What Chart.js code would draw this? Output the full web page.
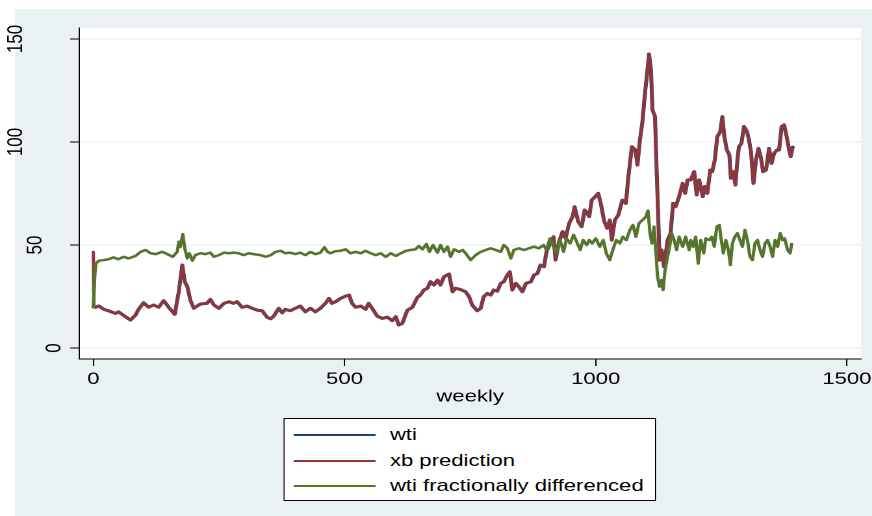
<!DOCTYPE html>
<html lang="en">
<head>
    <meta charset="UTF-8">
    <title>wti weekly</title>
    <script src="https://cdn.jsdelivr.net/npm/chart.js"></script>
    <style>
        body { margin: 0; background: white; }
        #wrap { position: absolute; left: 0; top: 0; width: 671px; height: 516px;
                transform: scaleX(1.2996); transform-origin: 0 0; }
        #legend { position: absolute; left: 218px; top: 418px; width: 287px; height: 83px;
                  box-sizing: border-box; border: 1px solid #000; background: #fff;
                  font-family: "Liberation Sans", Arial, sans-serif; font-size: 17px; }
        .row { position: absolute; left: 0; height: 20px; line-height: 20px; width: 100%; }
        .swatch { position: absolute; left: 7px; top: 9px; width: 63px; height: 0; border-top: 2px solid; }
        .txt { position: absolute; left: 81px; top: 0; white-space: nowrap; }
    </style>
</head>
<body>
<div id="wrap">
    <canvas id="chart" width="671" height="516"></canvas>
    <div id="legend"></div>
</div>

<script>
// axis ticks
const xTicks = [0, 500, 1000, 1500];
const yTicks = [0, 50, 100, 150];

// weeks for wti / xb prediction
const priceWeeks = [
    0, 1, 4, 11, 21, 30, 44, 50, 64, 74,
    84, 90, 100, 110, 120, 130, 140, 150, 162, 170,
    177, 182, 187, 193, 200, 213, 226, 233, 240, 250,
    260, 270, 279, 286, 296, 306, 316, 326, 336, 346,
    353, 359, 369, 376, 382, 392, 402, 412, 422, 432,
    442, 452, 462, 469, 475, 482, 492, 502, 509, 515,
    522, 532, 542, 548, 555, 565, 575, 585, 595, 602,
    608, 615, 625, 635, 645, 651, 658, 665, 671, 678,
    685, 691, 698, 708, 715, 721, 731, 741, 748, 754,
    764, 771, 777, 784, 791, 797, 804, 811, 817, 824,
    829, 834, 841, 847, 854, 861, 871, 877, 884, 890,
    897, 902, 909, 916, 920, 927, 934, 940, 947, 954,
    958, 965, 972, 978, 983, 987, 992, 999, 1005, 1010,
    1017, 1023, 1028, 1032, 1038, 1045, 1053, 1060, 1065, 1072,
    1079, 1083, 1088, 1093, 1098, 1103, 1106, 1110, 1113, 1118,
    1121, 1125, 1127, 1131, 1136, 1143, 1149, 1154, 1159, 1166,
    1173, 1178, 1183, 1189, 1196, 1201, 1206, 1213, 1217, 1222,
    1228, 1232, 1237, 1242, 1248, 1252, 1256, 1261, 1266, 1269,
    1274, 1278, 1282, 1285, 1290, 1295, 1301, 1305, 1309, 1314,
    1319, 1324, 1329, 1333, 1339, 1345, 1350, 1355, 1361, 1365,
    1370, 1375, 1380, 1385, 1388, 1392
];

const wti = [
    20.2, 20.2, 19.8, 20.4, 18.8, 18.1, 16.8, 17.6, 15.2, 13.6,
    16.0, 18.8, 22.0, 19.8, 20.9, 19.8, 23.0, 19.8, 16.4, 27.3,
    40.3, 32.2, 29.8, 23.3, 19.3, 21.4, 21.7, 23.6, 20.9, 19.3,
    21.7, 22.5, 21.7, 22.5, 19.8, 20.4, 19.3, 18.4, 18.1, 14.9,
    14.2, 15.5, 19.3, 17.1, 18.8, 18.1, 19.3, 20.4, 17.6, 19.3,
    17.6, 19.3, 21.7, 24.1, 21.7, 22.5, 24.1, 25.2, 25.7, 21.7,
    19.8, 20.4, 18.8, 21.7, 19.3, 15.5, 14.4, 15.0, 13.3, 15.2,
    11.2, 12.0, 18.4, 19.8, 24.6, 25.7, 28.2, 29.0, 32.2, 30.6,
    33.0, 30.6, 34.6, 35.9, 27.3, 29.0, 28.4, 27.3, 24.9, 20.9,
    18.1, 19.3, 24.9, 26.5, 25.7, 28.2, 27.6, 31.4, 32.2, 35.4,
    37.0, 28.2, 31.4, 29.8, 27.3, 31.4, 32.2, 35.4, 36.2, 40.3,
    39.5, 46.7, 50.8, 54.0, 42.7, 51.6, 56.5, 53.2, 60.5, 63.8,
    68.6, 61.4, 58.9, 67.0, 65.4, 63.8, 71.8, 73.5, 75.1, 70.2,
    61.4, 58.1, 62.1, 52.4, 62.1, 64.6, 71.8, 70.2, 83.2, 97.7,
    96.1, 88.8, 101.0, 109.9, 123.6, 134.9, 142.7, 134.9, 115.5, 112.3,
    88.0, 58.9, 42.7, 47.6, 39.5, 52.4, 55.7, 70.2, 68.6, 73.5,
    79.9, 75.1, 81.6, 81.6, 85.6, 74.3, 81.6, 73.5, 78.4, 75.1,
    86.4, 85.6, 91.3, 102.6, 105.1, 112.3, 102.6, 96.1, 93.7, 82.4,
    85.6, 79.1, 91.3, 97.7, 99.3, 107.5, 105.1, 101.0, 95.3, 79.9,
    91.3, 96.9, 92.1, 85.6, 86.4, 96.9, 89.6, 94.5, 96.1, 96.1,
    107.5, 108.3, 102.6, 96.1, 92.9, 97.5
];

const xbPrediction = [
    46.6, 20.2, 19.8, 20.4, 18.8, 18.1, 16.8, 17.6, 15.2, 13.6,
    16.0, 18.8, 22.0, 19.8, 20.9, 19.8, 23.0, 19.8, 16.4, 27.3,
    40.3, 32.2, 29.8, 23.3, 19.3, 21.4, 21.7, 23.6, 20.9, 19.3,
    21.7, 22.5, 21.7, 22.5, 19.8, 20.4, 19.3, 18.4, 18.1, 14.9,
    14.2, 15.5, 19.3, 17.1, 18.8, 18.1, 19.3, 20.4, 17.6, 19.3,
    17.6, 19.3, 21.7, 24.1, 21.7, 22.5, 24.1, 25.2, 25.7, 21.7,
    19.8, 20.4, 18.8, 21.7, 19.3, 15.5, 14.4, 15.0, 13.3, 15.2,
    11.2, 12.0, 18.4, 19.8, 24.6, 25.7, 28.2, 29.0, 32.2, 30.6,
    33.0, 30.6, 34.6, 35.9, 27.3, 29.0, 28.4, 27.3, 24.9, 20.9,
    18.1, 19.3, 24.9, 26.5, 25.7, 28.2, 27.6, 31.4, 32.2, 35.4,
    37.0, 28.2, 31.4, 29.8, 27.3, 31.4, 32.2, 35.4, 36.2, 40.3,
    39.5, 46.7, 50.8, 54.0, 42.7, 51.6, 56.5, 53.2, 60.5, 63.8,
    68.6, 61.4, 58.9, 67.0, 65.4, 63.8, 71.8, 73.5, 75.1, 70.2,
    61.4, 58.1, 62.1, 52.4, 62.1, 64.6, 71.8, 70.2, 83.2, 97.7,
    96.1, 88.8, 101.0, 109.9, 123.6, 134.9, 142.7, 134.9, 115.5, 112.3,
    88.0, 58.9, 42.7, 47.6, 39.5, 52.4, 55.7, 70.2, 68.6, 73.5,
    79.9, 75.1, 81.6, 81.6, 85.6, 74.3, 81.6, 73.5, 78.4, 75.1,
    86.4, 85.6, 91.3, 102.6, 105.1, 112.3, 102.6, 96.1, 93.7, 82.4,
    85.6, 79.1, 91.3, 97.7, 99.3, 107.5, 105.1, 101.0, 95.3, 79.9,
    91.3, 96.9, 92.1, 85.6, 86.4, 96.9, 89.6, 94.5, 96.1, 96.1,
    107.5, 108.3, 102.6, 96.1, 92.9, 96.9
];

// weeks for the fractionally differenced series
const fdWeeks = [
    0, 3, 5, 11, 21, 30, 40, 50, 60, 70,
    84, 94, 104, 114, 124, 137, 147, 158, 167, 170,
    173, 178, 182, 187, 191, 197, 203, 213, 223, 233,
    240, 250, 260, 270, 279, 289, 299, 309, 319, 333,
    343, 353, 363, 373, 382, 392, 402, 412, 422, 432,
    442, 452, 460, 466, 472, 482, 492, 502, 512, 522,
    532, 542, 552, 562, 572, 582, 592, 602, 612, 622,
    631, 641, 648, 655, 663, 669, 676, 685, 691, 698,
    705, 711, 718, 728, 735, 741, 751, 761, 771, 781,
    791, 801, 811, 817, 824, 831, 837, 847, 857, 867,
    877, 887, 896, 902, 909, 916, 922, 929, 936, 942,
    949, 956, 962, 969, 975, 982, 987, 993, 1000, 1008,
    1015, 1021, 1028, 1034, 1041, 1048, 1054, 1061, 1068, 1074,
    1080, 1086, 1093, 1100, 1104, 1108, 1112, 1116, 1120, 1123,
    1127, 1131, 1134, 1138, 1143, 1147, 1151, 1156, 1161, 1166,
    1173, 1179, 1186, 1189, 1194, 1199, 1204, 1209, 1215, 1219,
    1226, 1231, 1236, 1241, 1246, 1250, 1254, 1259, 1264, 1268,
    1272, 1277, 1282, 1287, 1292, 1297, 1302, 1307, 1312, 1317,
    1322, 1327, 1332, 1337, 1342, 1347, 1352, 1357, 1362, 1367,
    1372, 1376, 1382, 1387, 1390
];

const wtiFracDiff = [
    19.8, 35.4, 41.0, 42.4, 42.7, 43.1, 44.0, 43.1, 44.3, 43.5,
    44.7, 46.7, 47.6, 46.0, 45.6, 46.7, 45.6, 44.3, 46.7, 51.6,
    49.0, 55.3, 48.4, 43.5, 46.0, 42.4, 45.1, 46.0, 45.6, 46.3,
    44.3, 45.1, 46.3, 46.0, 46.3, 46.0, 45.1, 46.0, 45.6, 45.1,
    44.3, 45.1, 46.7, 47.2, 46.0, 46.3, 45.6, 46.3, 45.1, 46.6,
    45.6, 46.3, 48.9, 46.7, 46.0, 47.0, 47.2, 47.9, 46.0, 46.7,
    46.0, 47.2, 46.0, 45.1, 46.0, 44.3, 46.0, 44.7, 46.0, 47.2,
    47.6, 47.9, 49.5, 47.9, 50.5, 46.7, 50.0, 46.3, 50.0, 46.7,
    49.2, 44.3, 47.9, 46.7, 47.6, 46.0, 42.7, 45.1, 46.7, 47.6,
    48.4, 47.6, 46.7, 50.0, 48.4, 43.5, 47.6, 48.4, 47.6, 48.4,
    49.2, 48.4, 50.0, 47.6, 53.2, 49.2, 46.0, 52.4, 46.7, 53.2,
    50.8, 54.9, 51.6, 47.6, 52.4, 50.0, 52.4, 50.8, 53.2, 49.2,
    52.4, 46.0, 42.7, 47.6, 52.4, 50.8, 54.0, 52.4, 57.3, 59.7,
    54.0, 60.5, 62.1, 63.8, 66.7, 55.7, 50.8, 58.9, 46.0, 34.6,
    29.8, 33.0, 28.2, 37.9, 44.3, 49.2, 55.7, 52.4, 47.6, 54.0,
    49.2, 54.0, 47.6, 52.4, 49.2, 54.0, 41.0, 52.4, 46.0, 53.2,
    52.4, 54.0, 49.2, 58.9, 59.7, 52.4, 46.0, 52.4, 47.6, 40.3,
    50.8, 54.0, 55.7, 52.4, 49.2, 57.3, 52.4, 44.3, 42.7, 50.8,
    52.4, 47.6, 44.3, 50.8, 52.4, 49.2, 44.3, 52.4, 49.2, 55.7,
    52.4, 53.2, 47.6, 46.0, 50.5
];

const STRETCH = 1.2996; // the wrapper is stretched horizontally by css

Chart.defaults.font.family = '"Liberation Sans", Arial, sans-serif';
Chart.defaults.font.size = 17;
Chart.defaults.color = '#000';

// grey-blue graph region + white plot region
const backdrop = {
    id: 'backdrop',
    beforeDraw(chart) {
        const c = chart.ctx, a = chart.chartArea;
        c.save();
        c.fillStyle = '#ffffff';
        c.fillRect(0, 0, chart.width, chart.height);
        c.fillStyle = '#eaf1f3';
        c.fillRect(15 / STRETCH, 9, chart.width, chart.height);
        c.fillStyle = '#ffffff';
        c.fillRect(a.left, a.top, a.right - a.left, a.bottom - a.top);
        c.restore();
    }
};

// vertical y tick labels
const yLabels = {
    id: 'yLabels',
    afterDraw(chart) {
        const c = chart.ctx, ys = chart.scales.y;
        c.save();
        c.font = '17px "Liberation Sans", Arial, sans-serif';
        c.fillStyle = '#000';
        c.textAlign = 'center';
        c.textBaseline = 'middle';
        yTicks.forEach(v => {
            const s = String(v);
            const cx = (54.5 - (s.length - 1) * 19.3) / STRETCH;
            c.save();
            c.translate(cx, ys.getPixelForValue(v));
            c.rotate(-Math.PI / 2);
            c.fillText(s, 0, 0);
            c.restore();
        });
        c.restore();
    }
};

const toPoints = (xs, ys) => xs.map((x, i) => ({ x: x, y: ys[i] }));

const chart = new Chart(document.getElementById('chart'), {
    type: 'line',
    data: {
        datasets: [{
            label: 'wti',
            data: toPoints(priceWeeks, wti),
            borderColor: '#1a476f',
            borderWidth: 3,
            order: 3
        }, {
            label: 'xb prediction',
            data: toPoints(priceWeeks, xbPrediction),
            borderColor: '#90353b',
            borderWidth: 2.5,
            order: 2
        }, {
            label: 'wti fractionally differenced',
            data: toPoints(fdWeeks, wtiFracDiff),
            borderColor: '#55752f',
            borderWidth: 2.5,
            order: 1
        }]
    },
    options: {
        responsive: false,
        animation: false,
        devicePixelRatio: 2,
        layout: { padding: { left: 0, right: 8.5, top: 28, bottom: 105 } },
        elements: {
            point: { radius: 0 },
            line: { tension: 0, borderJoinStyle: 'round', borderCapStyle: 'round' }
        },
        plugins: { legend: { display: false }, tooltip: { enabled: false } },
        scales: {
            x: {
                type: 'linear',
                min: -28,
                max: 1528,
                afterBuildTicks: s => { s.ticks = xTicks.map(v => ({ value: v })); },
                afterFit: s => { s.height = 52; s.paddingLeft = 0; s.paddingRight = 0; },
                grid: { drawOnChartArea: false, tickLength: 7, tickColor: '#000' },
                border: { color: '#000', width: 1 },
                ticks: { maxRotation: 0, padding: 3, font: { size: 17 }, callback: v => String(v) },
                title: { display: true, text: 'weekly', font: { size: 17 }, padding: { top: 0, bottom: 4 } }
            },
            y: {
                min: -5.3,
                max: 155.3,
                afterBuildTicks: s => { s.ticks = yTicks.map(v => ({ value: v })); },
                afterFit: s => { s.width = 61; s.paddingTop = 0; s.paddingBottom = 0; },
                grid: { color: '#e4edf0', tickLength: 7, tickColor: '#000' },
                border: { color: '#000', width: 1 },
                ticks: { display: false }
            }
        }
    },
    plugins: [backdrop, yLabels]
});

// legend box built from the datasets
const legend = document.getElementById('legend');
chart.data.datasets.forEach((ds, i) => {
    const row = document.createElement('div');
    row.className = 'row';
    row.style.top = (6 + i * 25.5) + 'px';
    row.innerHTML = '<div class="swatch" style="border-color:' + ds.borderColor + '"></div>' +
                    '<div class="txt">' + ds.label + '</div>';
    legend.appendChild(row);
});
</script>
</body>
</html>
